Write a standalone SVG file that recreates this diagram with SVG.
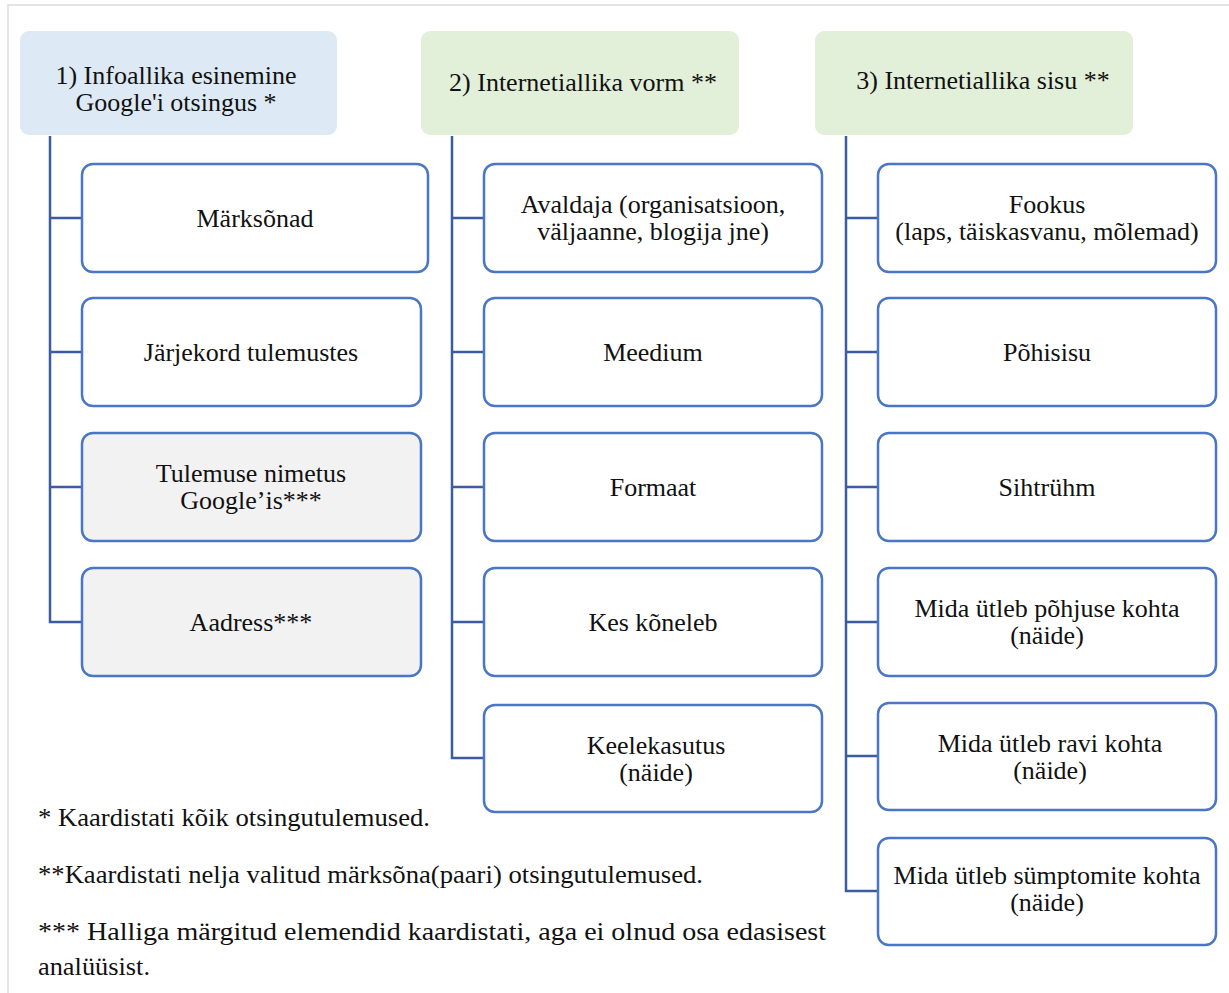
<svg xmlns="http://www.w3.org/2000/svg" width="1229" height="993" viewBox="0 0 1229 993">
<style>
text{font-family:"Liberation Serif","Times New Roman","DejaVu Serif",serif;font-size:26px;fill:#111;text-anchor:middle}
.hb{fill:#dde9f5}
.hg{fill:#e2efd9}
.box{fill:#fff;stroke:#4a76c6;stroke-width:2.5}
.gray{fill:#f2f2f2}
.conn{fill:none;stroke:#3b5ca0;stroke-width:2.5}
.fn{text-anchor:start;font-size:25px}
</style>
<rect x="0" y="0" width="1229" height="993" fill="#fff"/>
<path d="M8,993 V5 H1229" fill="none" stroke="#dcdcdc" stroke-width="1.5"/>
<g id="connectors">
<path class="conn" d="M50,136 V622 H82 M50,218 H82 M50,352 H82 M50,487 H82"/>
<path class="conn" d="M452,136 V758 H484 M452,218 H484 M452,352 H484 M452,487 H484 M452,622 H484"/>
<path class="conn" d="M846,136 V891 H878 M846,218 H878 M846,352 H878 M846,487 H878 M846,622 H878 M846,756 H878"/>
</g>
<g id="h1"><rect class="hb" x="20" y="31" width="317" height="104" rx="9"/><text x="176" y="84">1) Infoallika esinemine</text><text x="176" y="111">Google'i otsingus *</text></g>
<g id="h2"><rect class="hg" x="421" y="31" width="318" height="104" rx="9"/><text x="583" y="91">2) Internetiallika vorm **</text></g>
<g id="h3"><rect class="hg" x="815" y="31" width="318" height="104" rx="9"/><text x="983" y="89">3) Internetiallika sisu **</text></g>

<g id="c1n1"><rect class="box" x="82" y="164" width="346" height="108" rx="11"/><text x="255" y="227">Märksõnad</text></g>
<g id="c1n2"><rect class="box" x="82" y="298" width="339" height="108" rx="11"/><text x="251" y="361">Järjekord tulemustes</text></g>
<g id="c1n3"><rect class="box gray" x="82" y="433" width="339" height="108" rx="11"/><text x="251" y="482">Tulemuse nimetus</text><text x="251" y="509">Google’is***</text></g>
<g id="c1n4"><rect class="box gray" x="82" y="568" width="339" height="108" rx="11"/><text x="251" y="631">Aadress***</text></g>

<g id="c2n1"><rect class="box" x="484" y="164" width="338" height="108" rx="11"/><text x="653" y="213">Avaldaja (organisatsioon,</text><text x="653" y="240">väljaanne, blogija jne)</text></g>
<g id="c2n2"><rect class="box" x="484" y="298" width="338" height="108" rx="11"/><text x="653" y="361">Meedium</text></g>
<g id="c2n3"><rect class="box" x="484" y="433" width="338" height="108" rx="11"/><text x="653" y="496">Formaat</text></g>
<g id="c2n4"><rect class="box" x="484" y="568" width="338" height="108" rx="11"/><text x="653" y="631">Kes kõneleb</text></g>
<g id="c2n5"><rect class="box" x="484" y="705" width="338" height="107" rx="11"/><text x="656" y="754">Keelekasutus</text><text x="656" y="781">(näide)</text></g>

<g id="c3n1"><rect class="box" x="878" y="164" width="338" height="108" rx="11"/><text x="1047" y="213">Fookus</text><text x="1047" y="240">(laps, täiskasvanu, mõlemad)</text></g>
<g id="c3n2"><rect class="box" x="878" y="298" width="338" height="108" rx="11"/><text x="1047" y="361">Põhisisu</text></g>
<g id="c3n3"><rect class="box" x="878" y="433" width="338" height="108" rx="11"/><text x="1047" y="496">Sihtrühm</text></g>
<g id="c3n4"><rect class="box" x="878" y="568" width="338" height="108" rx="11"/><text x="1047" y="617">Mida ütleb põhjuse kohta</text><text x="1047" y="644">(näide)</text></g>
<g id="c3n5"><rect class="box" x="878" y="703" width="338" height="107" rx="11"/><text x="1050" y="752">Mida ütleb ravi kohta</text><text x="1050" y="779">(näide)</text></g>
<g id="c3n6"><rect class="box" x="878" y="838" width="338" height="107" rx="11"/><text x="1047" y="884">Mida ütleb sümptomite kohta</text><text x="1047" y="911">(näide)</text></g>

<g id="notes">
<text class="fn" x="38" y="826" textLength="392" lengthAdjust="spacingAndGlyphs">* Kaardistati kõik otsingutulemused.</text>
<text class="fn" x="38" y="883" textLength="665" lengthAdjust="spacingAndGlyphs">**Kaardistati nelja valitud märksõna(paari) otsingutulemused.</text>
<text class="fn" x="38" y="940" textLength="788" lengthAdjust="spacingAndGlyphs">*** Halliga märgitud elemendid kaardistati, aga ei olnud osa edasisest</text>
<text class="fn" x="38" y="975" textLength="112" lengthAdjust="spacingAndGlyphs">analüüsist.</text>
</g>
</svg>
